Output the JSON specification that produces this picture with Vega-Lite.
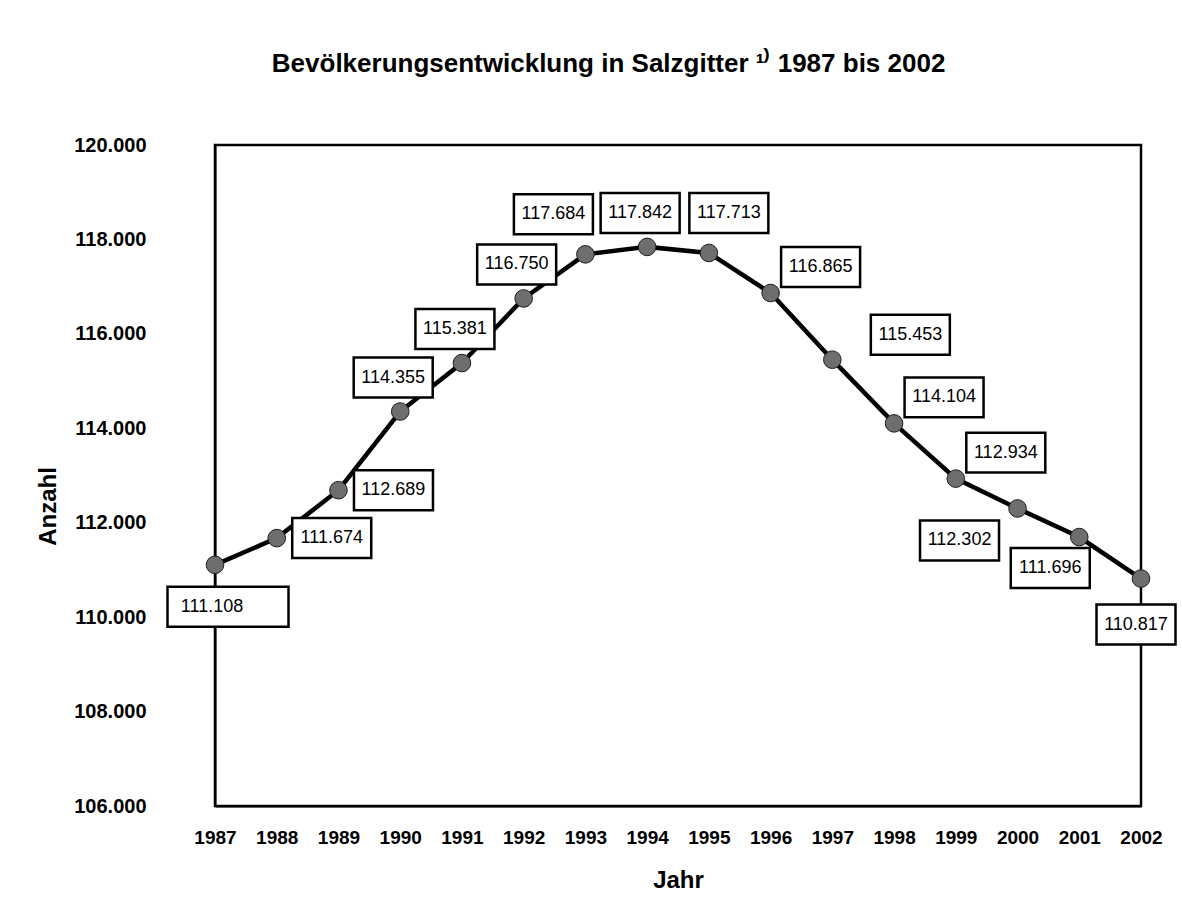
{
  "$schema": "https://vega.github.io/schema/vega-lite/v6.json",
  "width": 926,
  "height": 661,
  "autosize": "none",
  "padding": {"left": 215, "top": 145, "right": 41, "bottom": 118},
  "background": "white",
  "title": {
    "text": "Bevölkerungsentwicklung in Salzgitter ¹⁾ 1987 bis 2002",
    "anchor": "middle",
    "frame": "bounds",
    "font": "Liberation Sans",
    "fontSize": 26,
    "fontWeight": "bold",
    "color": "black",
    "offset": 58
  },
  "config": {
    "locale": {"number": {"decimal": ",", "thousands": ".", "grouping": [3], "currency": ["", " €"]}},
    "view": {"stroke": "black", "strokeWidth": 2.5},
    "font": "Liberation Sans"
  },
  "data": {
    "values": [
      {"jahr": 1987, "anzahl": 111108, "lage": "u87"},
      {"jahr": 1988, "anzahl": 111674, "lage": "r"},
      {"jahr": 1989, "anzahl": 112689, "lage": "r"},
      {"jahr": 1990, "anzahl": 114355, "lage": "o"},
      {"jahr": 1991, "anzahl": 115381, "lage": "o"},
      {"jahr": 1992, "anzahl": 116750, "lage": "o"},
      {"jahr": 1993, "anzahl": 117684, "lage": "ol"},
      {"jahr": 1994, "anzahl": 117842, "lage": "o"},
      {"jahr": 1995, "anzahl": 117713, "lage": "or"},
      {"jahr": 1996, "anzahl": 116865, "lage": "ro"},
      {"jahr": 1997, "anzahl": 115453, "lage": "rro"},
      {"jahr": 1998, "anzahl": 114104, "lage": "ro"},
      {"jahr": 1999, "anzahl": 112934, "lage": "ro"},
      {"jahr": 2000, "anzahl": 112302, "lage": "ul"},
      {"jahr": 2001, "anzahl": 111696, "lage": "u2"},
      {"jahr": 2002, "anzahl": 110817, "lage": "u"}
    ]
  },
  "encoding": {
    "x": {
      "field": "jahr", "type": "quantitative",
      "scale": {"domain": [1987, 2002], "nice": false, "zero": false},
      "axis": {
        "values": [1987,1988,1989,1990,1991,1992,1993,1994,1995,1996,1997,1998,1999,2000,2001,2002],
        "format": "d",
        "title": "Jahr",
        "grid": false,
        "ticks": false,
        "labelPadding": 22,
        "labelFont": "Liberation Sans",
        "labelFontSize": 19,
        "labelFontWeight": "bold",
        "labelColor": "black",
        "labelFlush": false,
        "labelOverlap": false,
        "titleFont": "Liberation Sans",
        "titleFontSize": 24,
        "titleFontWeight": "bold",
        "titleColor": "black",
        "titlePadding": 21,
        "domainColor": "black",
        "domainWidth": 2
      }
    },
    "y": {
      "field": "anzahl", "type": "quantitative",
      "scale": {"domain": [106000, 120000], "nice": false, "zero": false},
      "axis": {
        "values": [106000,108000,110000,112000,114000,116000,118000,120000],
        "format": ",d",
        "title": "Anzahl",
        "grid": false,
        "ticks": false,
        "labelPadding": 69,
        "labelFont": "Liberation Sans",
        "labelFontSize": 20,
        "labelFontWeight": "bold",
        "labelColor": "black",
        "labelFlush": false,
        "labelOverlap": false,
        "titleFont": "Liberation Sans",
        "titleFontSize": 24,
        "titleFontWeight": "bold",
        "titleColor": "black",
        "titlePadding": 13,
        "titleY": 361,
        "domainColor": "black",
        "domainWidth": 2
      }
    }
  },
  "layer": [
    {"mark": {"type": "line", "color": "black", "strokeWidth": 4.5}},
    {"mark": {"type": "point", "shape": "circle", "filled": true, "size": 310, "fill": "#6e6e6e", "stroke": "#1e1e1e", "strokeWidth": 1, "opacity": 1}},
    {
      "transform": [{"filter": "datum.lage == 'u87'"}],
      "layer": [
        {"mark": {"type": "point", "shape": "M-1,-0.33H1V0.33H-1Z", "size": 14641, "filled": true, "fill": "white", "stroke": "black", "strokeWidth": 2.5, "opacity": 1, "xOffset": 13, "yOffset": 42}},
        {"mark": {"type": "text", "font": "Liberation Sans", "fontSize": 18, "color": "black", "align": "center", "baseline": "middle", "xOffset": -3, "yOffset": 42}, "encoding": {"text": {"field": "anzahl", "type": "quantitative", "format": ",d"}}}
      ]
    },
    {
      "transform": [{"filter": "datum.lage == 'u'"}],
      "layer": [
        {"mark": {"type": "point", "shape": "M-1,-0.506H1V0.506H-1Z", "size": 6241, "filled": true, "fill": "white", "stroke": "black", "strokeWidth": 2.5, "opacity": 1, "xOffset": -5, "yOffset": 46}},
        {"mark": {"type": "text", "font": "Liberation Sans", "fontSize": 18, "color": "black", "align": "center", "baseline": "middle", "xOffset": -5, "yOffset": 46}, "encoding": {"text": {"field": "anzahl", "type": "quantitative", "format": ",d"}}}
      ]
    },
    {
      "transform": [{"filter": "datum.lage == 'r'"}],
      "layer": [
        {"mark": {"type": "point", "shape": "M-1,-0.506H1V0.506H-1Z", "size": 6241, "filled": true, "fill": "white", "stroke": "black", "strokeWidth": 2.5, "opacity": 1, "xOffset": 55, "yOffset": 0}},
        {"mark": {"type": "text", "font": "Liberation Sans", "fontSize": 18, "color": "black", "align": "center", "baseline": "middle", "xOffset": 55, "yOffset": 0}, "encoding": {"text": {"field": "anzahl", "type": "quantitative", "format": ",d"}}}
      ]
    },
    {
      "transform": [{"filter": "datum.lage == 'o'"}],
      "layer": [
        {"mark": {"type": "point", "shape": "M-1,-0.506H1V0.506H-1Z", "size": 6241, "filled": true, "fill": "white", "stroke": "black", "strokeWidth": 2.5, "opacity": 1, "xOffset": -7, "yOffset": -34}},
        {"mark": {"type": "text", "font": "Liberation Sans", "fontSize": 18, "color": "black", "align": "center", "baseline": "middle", "xOffset": -7, "yOffset": -34}, "encoding": {"text": {"field": "anzahl", "type": "quantitative", "format": ",d"}}}
      ]
    },
    {
      "transform": [{"filter": "datum.lage == 'ol'"}],
      "layer": [
        {"mark": {"type": "point", "shape": "M-1,-0.506H1V0.506H-1Z", "size": 6241, "filled": true, "fill": "white", "stroke": "black", "strokeWidth": 2.5, "opacity": 1, "xOffset": -32, "yOffset": -40}},
        {"mark": {"type": "text", "font": "Liberation Sans", "fontSize": 18, "color": "black", "align": "center", "baseline": "middle", "xOffset": -32, "yOffset": -40}, "encoding": {"text": {"field": "anzahl", "type": "quantitative", "format": ",d"}}}
      ]
    },
    {
      "transform": [{"filter": "datum.lage == 'or'"}],
      "layer": [
        {"mark": {"type": "point", "shape": "M-1,-0.506H1V0.506H-1Z", "size": 6241, "filled": true, "fill": "white", "stroke": "black", "strokeWidth": 2.5, "opacity": 1, "xOffset": 20, "yOffset": -40}},
        {"mark": {"type": "text", "font": "Liberation Sans", "fontSize": 18, "color": "black", "align": "center", "baseline": "middle", "xOffset": 20, "yOffset": -40}, "encoding": {"text": {"field": "anzahl", "type": "quantitative", "format": ",d"}}}
      ]
    },
    {
      "transform": [{"filter": "datum.lage == 'ro'"}],
      "layer": [
        {"mark": {"type": "point", "shape": "M-1,-0.506H1V0.506H-1Z", "size": 6241, "filled": true, "fill": "white", "stroke": "black", "strokeWidth": 2.5, "opacity": 1, "xOffset": 50, "yOffset": -26}},
        {"mark": {"type": "text", "font": "Liberation Sans", "fontSize": 18, "color": "black", "align": "center", "baseline": "middle", "xOffset": 50, "yOffset": -26}, "encoding": {"text": {"field": "anzahl", "type": "quantitative", "format": ",d"}}}
      ]
    },
    {
      "transform": [{"filter": "datum.lage == 'rro'"}],
      "layer": [
        {"mark": {"type": "point", "shape": "M-1,-0.506H1V0.506H-1Z", "size": 6241, "filled": true, "fill": "white", "stroke": "black", "strokeWidth": 2.5, "opacity": 1, "xOffset": 78, "yOffset": -25}},
        {"mark": {"type": "text", "font": "Liberation Sans", "fontSize": 18, "color": "black", "align": "center", "baseline": "middle", "xOffset": 78, "yOffset": -25}, "encoding": {"text": {"field": "anzahl", "type": "quantitative", "format": ",d"}}}
      ]
    },
    {
      "transform": [{"filter": "datum.lage == 'ul'"}],
      "layer": [
        {"mark": {"type": "point", "shape": "M-1,-0.506H1V0.506H-1Z", "size": 6241, "filled": true, "fill": "white", "stroke": "black", "strokeWidth": 2.5, "opacity": 1, "xOffset": -58, "yOffset": 32}},
        {"mark": {"type": "text", "font": "Liberation Sans", "fontSize": 18, "color": "black", "align": "center", "baseline": "middle", "xOffset": -58, "yOffset": 32}, "encoding": {"text": {"field": "anzahl", "type": "quantitative", "format": ",d"}}}
      ]
    },
    {
      "transform": [{"filter": "datum.lage == 'u2'"}],
      "layer": [
        {"mark": {"type": "point", "shape": "M-1,-0.506H1V0.506H-1Z", "size": 6241, "filled": true, "fill": "white", "stroke": "black", "strokeWidth": 2.5, "opacity": 1, "xOffset": -29, "yOffset": 31}},
        {"mark": {"type": "text", "font": "Liberation Sans", "fontSize": 18, "color": "black", "align": "center", "baseline": "middle", "xOffset": -29, "yOffset": 31}, "encoding": {"text": {"field": "anzahl", "type": "quantitative", "format": ",d"}}}
      ]
    }
  ]
}
